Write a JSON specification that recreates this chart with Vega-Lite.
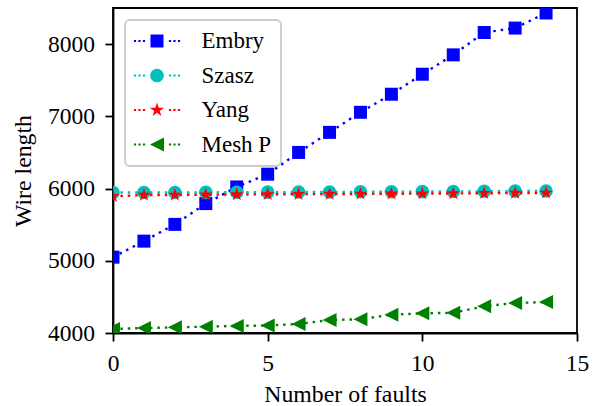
{
  "$schema": "https://vega.github.io/schema/vega-lite/v6.json",
  "autosize": {"type": "none"},
  "padding": {"left": 113, "top": 8, "right": 23, "bottom": 73},
  "width": 464,
  "height": 325,
  "background": "white",
  "config": {
    "font": "Liberation Serif",
    "view": {"stroke": "black", "strokeWidth": 1.8},
    "axis": {
      "grid": false,
      "domainColor": "black",
      "domainWidth": 1.8,
      "tickColor": "black",
      "tickWidth": 1.8,
      "tickSize": 8,
      "labelFont": "Liberation Serif",
      "labelFontSize": 23.5,
      "labelColor": "black",
      "titleFont": "Liberation Serif",
      "titleFontSize": 23.8,
      "titleFontWeight": "normal",
      "titleColor": "black"
    },
    "legend": {"labelFont": "Liberation Serif"}
  },
  "data": {
    "values": [
      {"x": 0, "series": "Embry", "y": 5050}, {"x": 1, "series": "Embry", "y": 5272}, {"x": 2, "series": "Embry", "y": 5504}, {"x": 3, "series": "Embry", "y": 5792}, {"x": 4, "series": "Embry", "y": 6022}, {"x": 5, "series": "Embry", "y": 6199}, {"x": 6, "series": "Embry", "y": 6500}, {"x": 7, "series": "Embry", "y": 6778}, {"x": 8, "series": "Embry", "y": 7056}, {"x": 9, "series": "Embry", "y": 7306}, {"x": 10, "series": "Embry", "y": 7583}, {"x": 11, "series": "Embry", "y": 7851}, {"x": 12, "series": "Embry", "y": 8161}, {"x": 13, "series": "Embry", "y": 8222}, {"x": 14, "series": "Embry", "y": 8431},
      {"x": 0, "series": "Szasz", "y": 5944}, {"x": 1, "series": "Szasz", "y": 5946}, {"x": 2, "series": "Szasz", "y": 5945}, {"x": 3, "series": "Szasz", "y": 5947}, {"x": 4, "series": "Szasz", "y": 5949}, {"x": 5, "series": "Szasz", "y": 5950}, {"x": 6, "series": "Szasz", "y": 5952}, {"x": 7, "series": "Szasz", "y": 5953}, {"x": 8, "series": "Szasz", "y": 5955}, {"x": 9, "series": "Szasz", "y": 5955}, {"x": 10, "series": "Szasz", "y": 5958}, {"x": 11, "series": "Szasz", "y": 5960}, {"x": 12, "series": "Szasz", "y": 5962}, {"x": 13, "series": "Szasz", "y": 5965}, {"x": 14, "series": "Szasz", "y": 5967},
      {"x": 0, "series": "Yang", "y": 5893}, {"x": 1, "series": "Yang", "y": 5910}, {"x": 2, "series": "Yang", "y": 5912}, {"x": 3, "series": "Yang", "y": 5915}, {"x": 4, "series": "Yang", "y": 5918}, {"x": 5, "series": "Yang", "y": 5920}, {"x": 6, "series": "Yang", "y": 5922}, {"x": 7, "series": "Yang", "y": 5924}, {"x": 8, "series": "Yang", "y": 5926}, {"x": 9, "series": "Yang", "y": 5928}, {"x": 10, "series": "Yang", "y": 5930}, {"x": 11, "series": "Yang", "y": 5932}, {"x": 12, "series": "Yang", "y": 5935}, {"x": 13, "series": "Yang", "y": 5938}, {"x": 14, "series": "Yang", "y": 5940},
      {"x": 0, "series": "Mesh P", "y": 4055}, {"x": 1, "series": "Mesh P", "y": 4069}, {"x": 2, "series": "Mesh P", "y": 4078}, {"x": 3, "series": "Mesh P", "y": 4088}, {"x": 4, "series": "Mesh P", "y": 4098}, {"x": 5, "series": "Mesh P", "y": 4103}, {"x": 6, "series": "Mesh P", "y": 4125}, {"x": 7, "series": "Mesh P", "y": 4180}, {"x": 8, "series": "Mesh P", "y": 4190}, {"x": 9, "series": "Mesh P", "y": 4254}, {"x": 10, "series": "Mesh P", "y": 4272}, {"x": 11, "series": "Mesh P", "y": 4280}, {"x": 12, "series": "Mesh P", "y": 4370}, {"x": 13, "series": "Mesh P", "y": 4416}, {"x": 14, "series": "Mesh P", "y": 4428}
    ]
  },
  "encoding": {
    "x": {
      "field": "x", "type": "quantitative",
      "scale": {"domain": [0, 15], "nice": false, "zero": false},
      "axis": {"values": [0, 5, 10, 15], "format": "d", "title": "Number of faults", "labelFont": "Liberation Serif", "labelFontSize": 23.5, "labelBaseline": "alphabetic", "labelPadding": 29, "titleY": 68, "titleBaseline": "alphabetic", "labelFlush": false}
    },
    "y": {
      "field": "y", "type": "quantitative",
      "scale": {"domain": [4000, 8500], "nice": false, "zero": false},
      "axis": {"values": [4000, 5000, 6000, 7000, 8000], "format": "d", "title": "Wire length", "labelFont": "Liberation Serif", "labelFontSize": 23.5, "labelPadding": 10.5, "titleX": -83, "titleBaseline": "alphabetic", "labelFlush": false}
    },
    "color": {
      "field": "series", "type": "nominal",
      "scale": {"domain": ["Embry", "Szasz", "Yang", "Mesh P"], "range": ["#0000ff", "#00bfbf", "#ff0000", "#008000"]},
      "legend": {
        "title": null,
        "orient": "none",
        "legendX": 12,
        "legendY": 12,
        "padding": 9.5,
        "strokeColor": "#cccccc",
        "fillColor": "rgba(255,255,255,0.8)",
        "cornerRadius": 5,
        "labelFont": "Liberation Serif",
        "labelFontSize": 23,
        "labelColor": "black",
        "labelLimit": 300,
        "rowPadding": 10.5,
        "symbolSize": 4,
        "symbolOffset": 11,
        "labelOffset": 33,
        "encode": {
          "legend": {"update": {"strokeWidth": {"value": 1.8}}},
          "symbols": {
            "update": {
              "shape": {"signal": "datum.value === 'Embry' ? 'M-23.1,-1.1h2.2v2.2h-2.2ZM-18.6,-1.1h2.2v2.2h-2.2ZM-14.1,-1.1h2.2v2.2h-2.2ZM11.9,-1.1h2.2v2.2h-2.2ZM16.4,-1.1h2.2v2.2h-2.2ZM20.9,-1.1h2.2v2.2h-2.2ZM-6.5,-6.5h13v13h-13Z' : datum.value === 'Szasz' ? 'M-23.1,-1.1h2.2v2.2h-2.2ZM-18.6,-1.1h2.2v2.2h-2.2ZM-14.1,-1.1h2.2v2.2h-2.2ZM11.9,-1.1h2.2v2.2h-2.2ZM16.4,-1.1h2.2v2.2h-2.2ZM20.9,-1.1h2.2v2.2h-2.2ZM-6.8,0a6.8,6.8 0 1,0 13.6,0a6.8,6.8 0 1,0 -13.6,0Z' : datum.value === 'Yang' ? 'M-23.1,-1.1h2.2v2.2h-2.2ZM-18.6,-1.1h2.2v2.2h-2.2ZM-14.1,-1.1h2.2v2.2h-2.2ZM11.9,-1.1h2.2v2.2h-2.2ZM16.4,-1.1h2.2v2.2h-2.2ZM20.9,-1.1h2.2v2.2h-2.2ZM0,-7.5L1.69,-2.32L7.13,-2.32L2.72,0.89L4.41,6.07L0,2.87L-4.41,6.07L-2.72,0.89L-7.13,-2.32L-1.69,-2.32Z' : 'M-23.1,-1.1h2.2v2.2h-2.2ZM-18.6,-1.1h2.2v2.2h-2.2ZM-14.1,-1.1h2.2v2.2h-2.2ZM11.9,-1.1h2.2v2.2h-2.2ZM16.4,-1.1h2.2v2.2h-2.2ZM20.9,-1.1h2.2v2.2h-2.2ZM-7,0L7,-7L7,7Z'"},
              "fill": {"scale": "color", "field": "value"},
              "stroke": {"value": "transparent"},
              "strokeWidth": {"value": 0},
              "size": {"value": 4},
              "opacity": {"value": 1}
            }
          }
        }
      }
    }
  },
  "layer": [
    {"transform": [{"filter": "datum.series === 'Embry'"}], "mark": {"type": "line", "strokeWidth": 2.4, "strokeDash": [2.5, 4.9], "strokeCap": "butt", "clip": true}},
    {"transform": [{"filter": "datum.series === 'Embry'"}], "mark": {"type": "point", "shape": "square", "filled": true, "size": 169, "opacity": 1, "strokeWidth": 0, "clip": true}},
    {"transform": [{"filter": "datum.series === 'Szasz'"}], "mark": {"type": "line", "strokeWidth": 2.4, "strokeDash": [2.5, 4.9], "strokeCap": "butt", "clip": true}},
    {"transform": [{"filter": "datum.series === 'Szasz'"}], "mark": {"type": "point", "shape": "circle", "filled": true, "size": 185, "opacity": 1, "strokeWidth": 0, "clip": true}},
    {"transform": [{"filter": "datum.series === 'Yang'"}], "mark": {"type": "line", "strokeWidth": 2.4, "strokeDash": [2.5, 4.9], "strokeCap": "butt", "clip": true}},
    {"transform": [{"filter": "datum.series === 'Yang'"}], "mark": {"type": "point", "shape": "M0,-1L0.225,-0.309L0.951,-0.309L0.363,0.118L0.588,0.809L0,0.382L-0.588,0.809L-0.363,0.118L-0.951,-0.309L-0.225,-0.309Z", "filled": true, "size": 200, "opacity": 1, "strokeWidth": 0, "clip": true}},
    {"transform": [{"filter": "datum.series === 'Mesh P'"}], "mark": {"type": "line", "strokeWidth": 2.4, "strokeDash": [2.5, 4.9], "strokeCap": "butt", "clip": true}},
    {"transform": [{"filter": "datum.series === 'Mesh P'"}], "mark": {"type": "point", "shape": "M-1,0L1,-1L1,1Z", "filled": true, "size": 196, "opacity": 1, "strokeWidth": 0, "clip": true}}
  ]
}
